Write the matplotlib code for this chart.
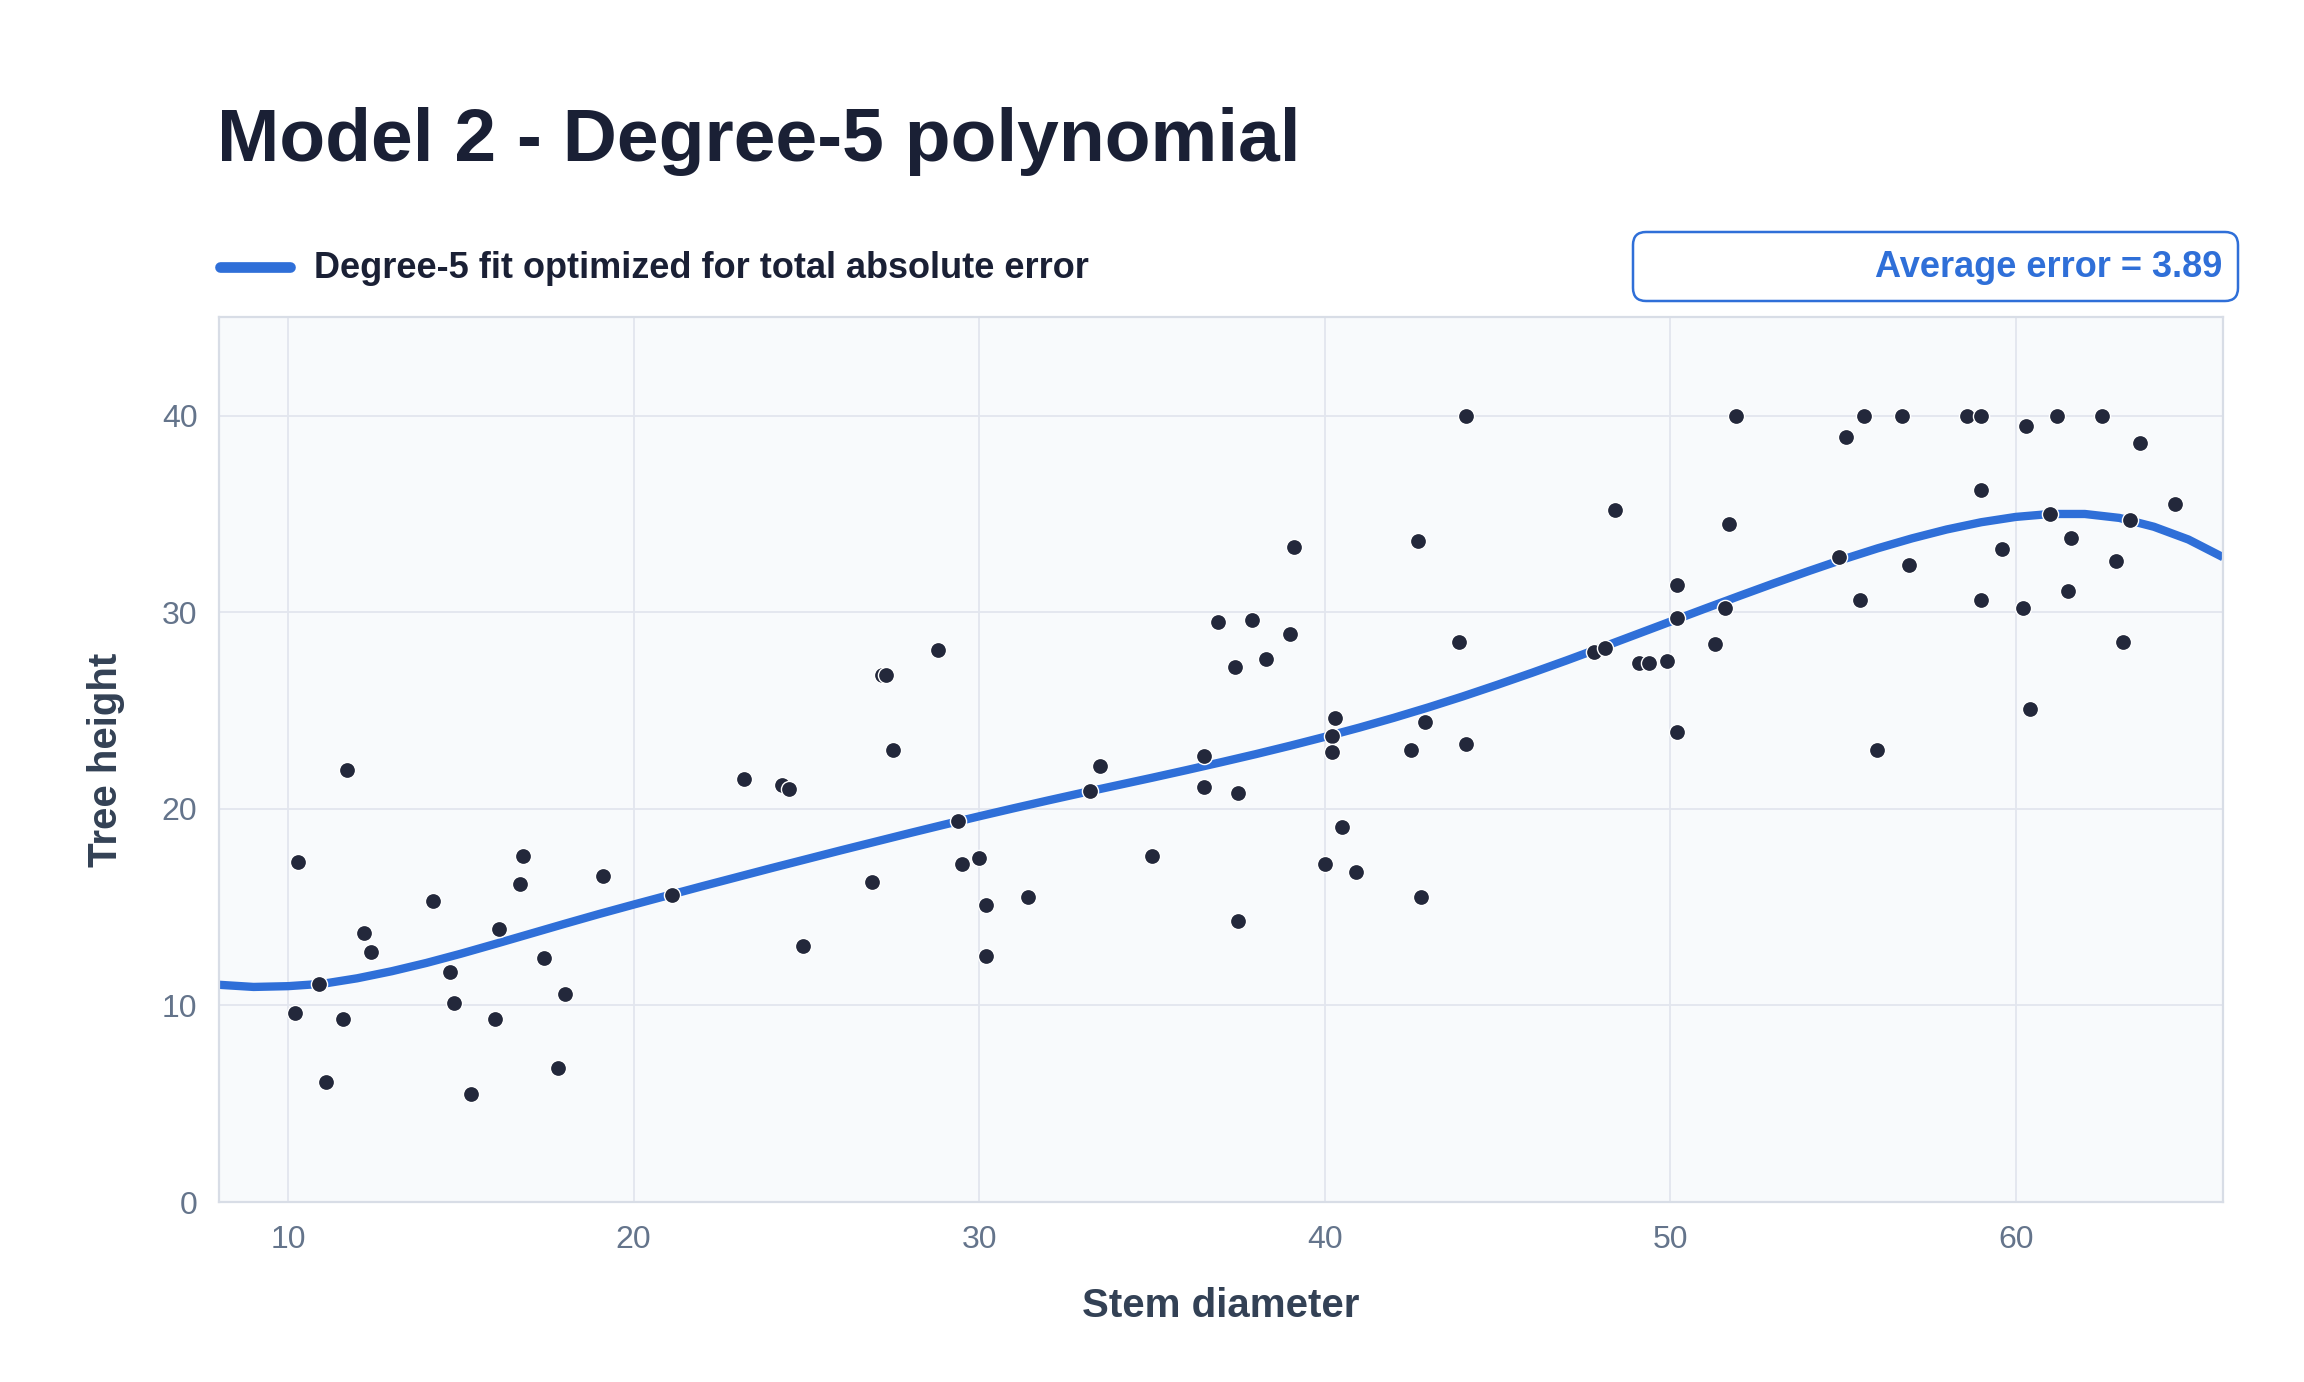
import matplotlib
matplotlib.use("Agg")
import matplotlib.pyplot as plt
from matplotlib.lines import Line2D
from matplotlib.patches import FancyBboxPatch
from matplotlib.transforms import IdentityTransform

plt.rcParams['font.family'] = ['Liberation Sans', 'DejaVu Sans']

# scatter data: stem diameter vs tree height
diameter = [10.2, 10.3, 10.9, 11.1, 11.6, 11.7, 12.2, 12.4, 14.2, 14.7,
            14.8, 15.3, 16.0, 16.1, 16.7, 16.8, 17.4, 17.8, 18.0, 19.1,
            21.1, 23.2, 24.3, 24.5, 24.9, 26.9, 27.2, 27.3, 27.5, 28.8,
            29.4, 29.5, 30.0, 30.2, 30.2, 31.4, 33.2, 33.5, 35.0, 36.5,
            36.5, 36.9, 37.4, 37.5, 37.5, 37.9, 38.3, 39.0, 39.1, 40.0,
            40.2, 40.2, 40.3, 40.5, 40.9, 42.5, 42.7, 42.8, 42.9, 43.9,
            44.1, 44.1, 47.8, 48.1, 48.4, 49.1, 49.4, 49.9, 50.2, 50.2,
            50.2, 51.3, 51.6, 51.7, 51.9, 54.9, 55.1, 55.5, 55.6, 56.0,
            56.7, 56.9, 58.6, 59.0, 59.0, 59.0, 59.6, 60.2, 60.3, 60.4,
            61.0, 61.2, 61.5, 61.6, 62.5, 62.9, 63.1, 63.3, 63.6, 64.6]
height = [9.6, 17.3, 11.1, 6.1, 9.3, 22.0, 13.7, 12.7, 15.3, 11.7,
          10.1, 5.5, 9.3, 13.9, 16.2, 17.6, 12.4, 6.8, 10.6, 16.6,
          15.6, 21.5, 21.2, 21.0, 13.0, 16.3, 26.8, 26.8, 23.0, 28.1,
          19.4, 17.2, 17.5, 15.1, 12.5, 15.5, 20.9, 22.2, 17.6, 22.7,
          21.1, 29.5, 27.2, 20.8, 14.3, 29.6, 27.6, 28.9, 33.3, 17.2,
          23.7, 22.9, 24.6, 19.1, 16.8, 23.0, 33.6, 15.5, 24.4, 28.5,
          40.0, 23.3, 28.0, 28.2, 35.2, 27.4, 27.4, 27.5, 31.4, 29.7,
          23.9, 28.4, 30.2, 34.5, 40.0, 32.8, 38.9, 30.6, 40.0, 23.0,
          40.0, 32.4, 40.0, 40.0, 36.2, 30.6, 33.2, 30.2, 39.5, 25.1,
          35.0, 40.0, 31.1, 33.8, 40.0, 32.6, 28.5, 34.7, 38.6, 35.5]

# fitted curve at each whole diameter
fit_x = list(range(8, 67))
fit_y = [11.05, 10.94, 10.98, 11.1, 11.38, 11.74, 12.16, 12.63, 13.13, 13.64,
         14.15, 14.65, 15.13, 15.6, 16.07, 16.53, 16.99, 17.44, 17.89, 18.33,
         18.77, 19.2, 19.62, 20.03, 20.43, 20.82, 21.2, 21.58, 21.97, 22.37,
         22.78, 23.21, 23.66, 24.13, 24.63, 25.16, 25.72, 26.31, 26.92, 27.55,
         28.2, 28.86, 29.52, 30.18, 30.83, 31.47, 32.09, 32.69, 33.25, 33.76,
         34.21, 34.58, 34.85, 35.0, 35.0, 34.8, 34.35, 33.7, 32.8]

x_ticks = [10, 20, 30, 40, 50, 60]
y_ticks = [0, 10, 20, 30, 40]

title = "Model 2 - Degree-5 polynomial"
legend_label = "Degree-5 fit optimized for total absolute error"
error_label = "Average error = 3.89"

BLUE = "#2f6fd8"
NAVY = "#1a2035"
SLATE = "#334155"
GRAY = "#64748b"

W, H = 2304, 1382
fig = plt.figure(figsize=(W / 100, H / 100), dpi=100)
fig.patch.set_facecolor("white")

ax = fig.add_axes([219 / W, 1 - 1202 / H, (2223 - 219) / W, (1202 - 317.4) / H])
ax.set_facecolor("#f8fafc")
ax.plot(fit_x, fit_y, color=BLUE, lw=6, solid_capstyle="butt",
        solid_joinstyle="round", zorder=2)
ax.scatter(diameter, height, s=135, color="#23283b", edgecolor="white",
           linewidth=1.0, zorder=3)

ax.set_xlim(8, 66)
ax.set_ylim(0, 45)
ax.set_xticks(x_ticks)
ax.set_yticks(y_ticks)
ax.grid(True, color="#e2e6ee", lw=1.3)
ax.set_axisbelow(True)
for s in ax.spines.values():
    s.set_color("#d8dde6")
    s.set_linewidth(1.6)
ax.tick_params(length=0, labelsize=23, labelcolor=GRAY)
ax.tick_params(axis="x", pad=16.5)
ax.tick_params(axis="y", pad=15.5)

# titles and axis labels
fig.text(217 / W, 1 - 160.7 / H, title, fontsize=54, fontweight="bold",
         color=NAVY, va="baseline", ha="left")
fig.text(1221 / W, 1 - 1317 / H, "Stem diameter", fontsize=29,
         fontweight="bold", color=SLATE, ha="center", va="baseline")
fig.text(106 / W, 1 - 760 / H, "Tree height", fontsize=29, fontweight="bold",
         color=SLATE, rotation=90, ha="center", va="center")

# legend row
fig.add_artist(Line2D([220 / W, 290 / W], [1 - 266.5 / H, 1 - 266.5 / H],
                      color=BLUE, lw=7.7, solid_capstyle="round",
                      transform=fig.transFigure))
fig.text(314 / W, 1 - 277.7 / H, legend_label, fontsize=26,
         fontweight="bold", color=NAVY, va="baseline", ha="left")

box = FancyBboxPatch((1633, H - 301), 605, 69,
                     boxstyle="round,pad=0,rounding_size=13",
                     facecolor="white", edgecolor=BLUE, lw=1.8,
                     transform=IdentityTransform())
fig.add_artist(box)
fig.text(2222 / W, 1 - 277 / H, error_label, fontsize=26,
         fontweight="bold", color=BLUE, va="baseline", ha="right")

fig.savefig("out.png", dpi=100)
